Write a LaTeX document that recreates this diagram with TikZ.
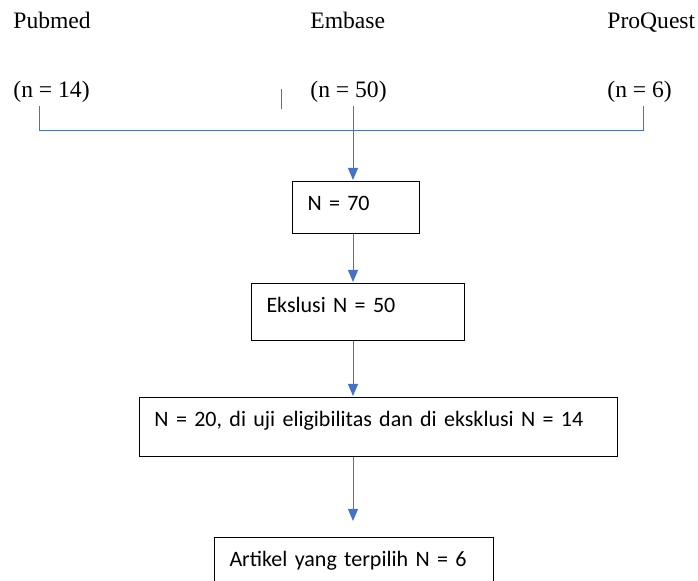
\documentclass[tikz,border=0pt]{standalone}
\usepackage{fontspec}
\setmainfont{Liberation Serif}
\newfontfamily\calibri{Carlito}
\usetikzlibrary{arrows.meta}

\definecolor{linkblue}{HTML}{4472C4}

\tikzset{
	source/.style={anchor=base west, inner sep=0pt, font=\fontsize{11.8}{14}\selectfont},
	box/.style={draw, line width=0.5pt, anchor=north west, align=left,
		inner xsep=7.5pt, inner ysep=0pt, text height=14.75pt,
		font=\calibri\fontsize{11}{13}\selectfont},
	link/.style={draw=linkblue, line width=0.5pt},
	flow/.style={link, -{Triangle[length=6pt,width=5pt]}, shorten >=0.5pt}
}

\begin{document}
\begin{tikzpicture}[x=0.5pt, y=-0.5pt]

% frame %{{{2

	\useasboundingbox (0,0) rectangle (698,581);
	\clip (0,0) rectangle (698,581);

% sources %{{{2

	\node[source] (pubmed) at (13,29) {Pubmed};
	\node[source] (embase) at (310,29) {Embase};
	\node[source] (proquest) at (607,29) {ProQuest};

	\node[source] (npubmed) at (13,98) {(n = 14)};
	\node[source] (nembase) at (310,98) {(n = 50)};
	\node[source] (nproquest) at (607,98) {(n = 6)};

% boxes %{{{2

	\node[box, text width=48.5pt, text depth=11.25pt] (total) at (292,181) {N = 70};
	\node[box, text width=91.5pt, text depth=13.75pt] (excl) at (251,283) {Ekslusi N = 50};
	\node[box, text width=224pt, text depth=14.75pt] (elig) at (139,397)
		{N = 20, di uji eligibilitas dan di eksklusi N = 14};
	\node[box, text width=124.5pt, text depth=17.25pt] (chosen) at (214,537)
		{Artikel yang terpilih N = 6};

% bracket %{{{2

	\coordinate (spine) at (353,106);
	\coordinate (bl) at (39,106);
	\coordinate (br) at (643,106);
	\coordinate (tick) at (281,89);

	\draw[link] (bl) -- ++(0,25) -| (br);
	\draw[link] (tick) -- ++(0,20);

% arrows %{{{2

	\draw[flow] (spine) -- (total.north -| spine);
	\draw[flow] (total.south -| spine) -- (excl.north -| spine);
	\draw[flow] (excl.south -| spine) -- (elig.north -| spine);
	\draw[flow] (elig.south -| spine) -- ([yshift=7.5pt]chosen.north -| spine);

% closing %{{{2

\end{tikzpicture}
\end{document}
